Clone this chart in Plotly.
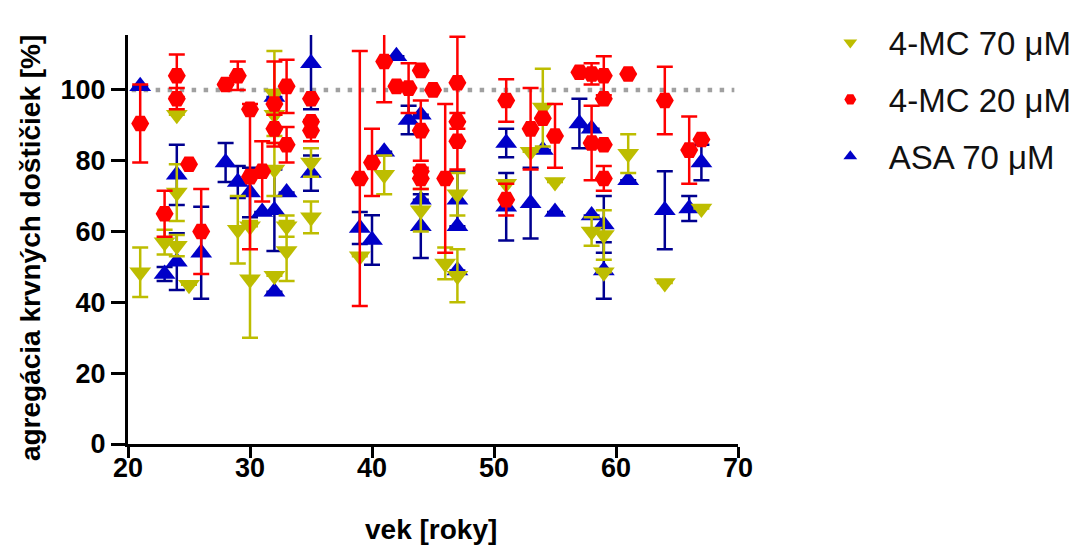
import plotly.graph_objects as go

# Platelet aggregation vs. age, three treatments (mean ± SD per subject)
mc70_age = [21, 23, 24, 24, 24, 25, 29, 30, 30, 32, 32, 32, 32, 33, 33, 35, 35, 39, 41, 44, 46, 47, 47,
            51, 53, 54, 55, 58, 59, 59, 61, 64, 67]
mc70_val = [48.5, 57, 93, 71, 56, 45, 60.5, 61.5, 46.5, 99, 93, 77.5, 47.5, 61.5, 54.5, 79.5, 64, 53, 76, 66, 51, 70.5, 47.5,
            73.5, 82.5, 95, 74, 60, 59, 48.5, 82, 45.5, 66.5]
mc70_err = [7, 3.5, 0, 8, 3, 0, 9.5, 0, 16.5, 12, 0, 7.5, 0, 3, 8.5, 4, 4.5, 0, 5.5, 6, 4.5, 6, 7.5,
            0, 0, 11, 0, 4, 7, 0, 5.5, 0, 0]

mc20_age = [21, 23, 24, 24, 25, 26, 28, 29, 30, 30, 31, 32, 32, 33, 33, 35, 35, 35, 39, 40, 41, 42, 43,
            44, 44, 44, 44, 45, 46, 47, 47, 47, 51, 51, 53, 54, 55, 57, 58, 58, 59, 59, 59, 59, 61, 64, 66, 67]
mc20_val = [90.5, 65, 104, 97.5, 79, 60, 101.5, 104, 94.5, 75.5, 77, 96, 89, 101, 84.5, 97.5, 91, 88.5, 75, 79.5, 108, 101, 100.5,
            105.5, 88.5, 77, 75, 100, 75, 102, 91, 85.5, 97, 69, 89, 92, 87, 105, 104.5, 85, 104, 97.5, 84.5, 75, 104.5, 97, 83, 86]
mc20_err = [11, 6.5, 6, 3, 0, 12, 0, 4, 0, 20.5, 8.5, 12, 4, 7.5, 5, 0, 0, 3, 36, 9.5, 11.5, 0, 7,
            0, 8.5, 0, 3, 0, 21, 13, 0, 8, 6, 4.5, 11.5, 0, 9, 0, 3, 10.5, 5.5, 0, 0, 3.5, 0, 9.5, 9.5, 0]

asa_age = [21, 23, 24, 24, 26, 28, 29, 30, 31, 32, 32, 32, 33, 35, 35, 39, 40, 41, 42, 43, 44, 44, 44,
           47, 47, 47, 51, 51, 53, 54, 55, 57, 58, 58, 59, 59, 61, 64, 66, 67]
asa_val = [101, 48, 76, 51.5, 54, 79.5, 74, 71, 65.5, 98, 66, 43, 71, 107.5, 76.5, 61, 57.6, 82.5, 109.5, 91.5, 93, 69, 61.5,
           69, 61.5, 49, 85, 67, 68, 83, 65.5, 90.5, 89, 64.5, 62, 49, 74.5, 66, 66.5, 79.5]
asa_err = [0, 2, 8.5, 8, 13, 5.5, 4.5, 7, 0, 0, 11.5, 0, 0, 13, 5, 4.5, 7, 0, 0, 4, 0, 0, 9,
           8, 0, 0, 4, 9.5, 10, 0, 0, 7, 0, 0, 8, 8, 0, 11, 3.5, 5]

x_ticks = [20, 30, 40, 50, 60, 70]
y_ticks = [0, 20, 40, 60, 80, 100]
reference_level = 100

FONT = "Liberation Sans, Arial, sans-serif"
OLIVE = "#BDBD00"
RED = "#FF0000"
BLUE = "#0000C8"
NAVY = "#000090"


def series(name, ages, vals, errs, symbol, color, bar_color, size, rank):
    return go.Scatter(
        x=ages, y=vals, name=name, mode="markers",
        legendrank=rank, legendgroup=name,
        marker=dict(symbol=symbol, size=size, color=color, line=dict(width=0)),
        error_y=dict(type="data", array=errs, symmetric=True, color=bar_color,
                     thickness=2.5, width=8),
    )


fig = go.Figure()
fig.add_trace(series("ASA 70 μM", asa_age, asa_val, asa_err, "triangle-up", BLUE, NAVY, 19, 3))
fig.add_trace(series("4-MC 70 μM", mc70_age, mc70_val, mc70_err, "triangle-down", OLIVE, OLIVE, 19, 1))
fig.add_trace(series("4-MC 20 μM", mc20_age, mc20_val, mc20_err, "hexagon2", RED, RED, 18, 2))

# dotted reference line at 100 %
fig.add_shape(type="line", xref="x", yref="y", x0=20.3, x1=69.7,
              y0=reference_level, y1=reference_level, layer="below",
              line=dict(color="#A0A0A0", width=4.5, dash="4.5px,7.5px"))

axis_common = dict(
    showline=True, linecolor="black", linewidth=3,
    ticks="outside", ticklen=14, tickwidth=3, tickcolor="black",
    showgrid=False, zeroline=False,
    tickfont=dict(family=FONT, size=27, color="black", weight="bold"),
)

fig.update_xaxes(range=[20, 70], tickvals=x_ticks, **axis_common)
fig.update_xaxes(ticklen=11, ticklabelstandoff=-13)
fig.update_yaxes(range=[0, 115.5], tickvals=y_ticks, **axis_common)

fig.add_annotation(text="vek [roky]", xref="paper", yref="paper",
                   x=0.497, y=-0.21, xanchor="center", yanchor="middle", showarrow=False,
                   font=dict(family=FONT, size=28, color="black", weight="bold"))
fig.add_annotation(text="agregácia krvných doštičiek [%]", xref="paper", yref="paper",
                   x=-0.16, y=0.48, xanchor="center", yanchor="middle", textangle=-90,
                   showarrow=False,
                   font=dict(family=FONT, size=28, color="black", weight="bold"))

fig.update_layout(
    width=1089, height=550,
    margin=dict(l=128, r=349, t=35, b=106),
    plot_bgcolor="white", paper_bgcolor="white",
    showlegend=True,
    legend=dict(x=1.121, y=1.05, xanchor="left", yanchor="top",
                font=dict(family=FONT, size=33, color="#111111"),
                itemsizing="constant", itemwidth=67, tracegroupgap=11,
                bgcolor="rgba(0,0,0,0)"),
)

fig.write_html("out.html")
